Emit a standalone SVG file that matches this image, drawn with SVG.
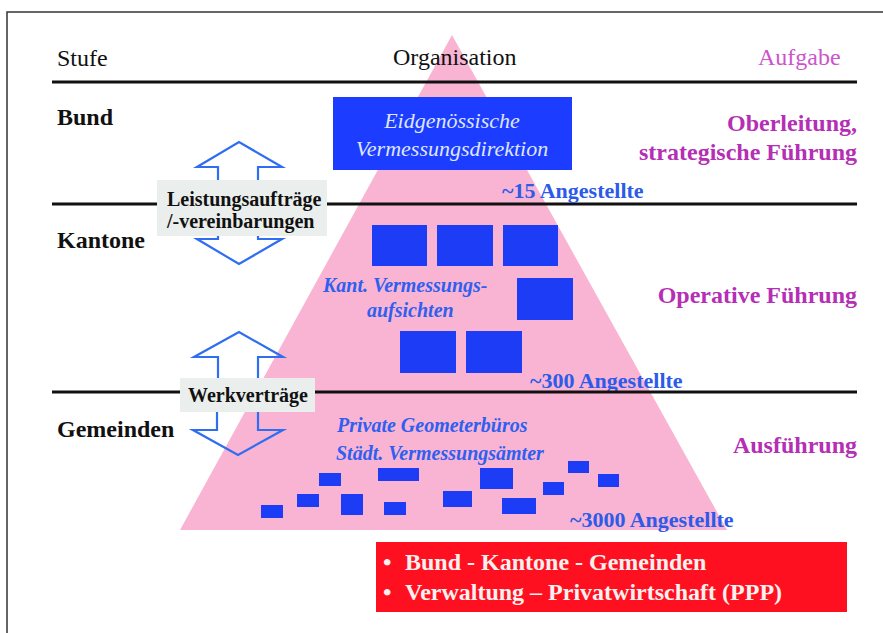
<svg xmlns="http://www.w3.org/2000/svg" width="883" height="633" viewBox="0 0 883 633">
<style>
text{font-family:"Liberation Serif","Times New Roman",serif}
.hd{font-size:24px;fill:#111}
.lv{font-size:24px;font-weight:bold;fill:#111}
.task{font-size:24px;font-weight:bold;fill:#b52fb5;text-anchor:end}
.cnt{font-size:22px;font-weight:bold;fill:#2b5be8}
.org{font-size:20px;font-weight:bold;font-style:italic;fill:#2f5ff0}
.lbl{font-size:20px;font-weight:bold;fill:#111}
.lblbox{fill:#eaeeec}
.sq{fill:#1c3cf5}
.rule{stroke:#111;stroke-width:3}
.arr{fill:none;stroke:#2f6ef0;stroke-width:2.2;stroke-linejoin:miter}
.red{font-size:24px;font-weight:bold;fill:#fff0f0}
</style>
<rect width="883" height="633" fill="#ffffff"/>
<path d="M7 633 V12 H883" fill="none" stroke="#333" stroke-width="1.5"/>

<g id="pyramid"><polygon points="452,35 180,530 727,530" fill="#f8b4d2"/></g>

<g id="header">
<text class="hd" x="57" y="66">Stufe</text>
<text class="hd" x="393" y="65">Organisation</text>
<text class="hd" x="758" y="65" style="fill:#cc55cc">Aufgabe</text>
</g>

<g id="rules">
<line class="rule" x1="52" y1="82" x2="857" y2="82"/>
<line class="rule" x1="52" y1="204" x2="857" y2="204"/>
</g>

<g id="bund">
<text class="lv" x="57" y="125">Bund</text>
<g id="vd">
<rect x="333" y="97" width="239" height="73" fill="#1c3cff"/>
<text x="452" y="128" text-anchor="middle" style="font-size:22px;font-style:italic;fill:#dfe6ff">Eidgenössische</text>
<text x="452" y="156" text-anchor="middle" style="font-size:22px;font-style:italic;fill:#dfe6ff">Vermessungsdirektion</text>
</g>
<text class="task" x="857" y="131">Oberleitung,</text>
<text class="task" x="857" y="160">strategische Führung</text>
<text class="cnt" x="502" y="198">~15 Angestellte</text>
</g>

<g id="kantone">
<text class="lv" x="57" y="248">Kantone</text>
<rect class="sq" x="372" y="225" width="55" height="41"/>
<rect class="sq" x="437" y="225" width="56" height="41"/>
<rect class="sq" x="503" y="225" width="55" height="41"/>
<rect class="sq" x="517" y="278" width="56" height="42"/>
<rect class="sq" x="400" y="331" width="56" height="42"/>
<rect class="sq" x="466" y="331" width="56" height="42"/>
<text class="org" x="323" y="292">Kant. Vermessungs-</text>
<text class="org" x="367" y="317">aufsichten</text>
<text class="task" x="857" y="303">Operative Führung</text>
<text class="cnt" x="530" y="388">~300 Angestellte</text>
</g>

<g id="rule3"><line class="rule" x1="52" y1="392" x2="857" y2="392"/></g>

<g id="gemeinden">
<text class="lv" x="57" y="437">Gemeinden</text>
<text class="org" x="337" y="432">Private Geometerbüros</text>
<text class="org" x="336" y="460">Städt. Vermessungsämter</text>
<rect class="sq" x="261" y="505" width="22" height="13"/>
<rect class="sq" x="297" y="494" width="22" height="13"/>
<rect class="sq" x="319" y="473" width="22" height="13"/>
<rect class="sq" x="341" y="494" width="22" height="21"/>
<rect class="sq" x="378" y="468" width="41" height="13"/>
<rect class="sq" x="384" y="502" width="22" height="13"/>
<rect class="sq" x="443" y="491" width="29" height="16"/>
<rect class="sq" x="480" y="468" width="33" height="21"/>
<rect class="sq" x="502" y="498" width="34" height="16"/>
<rect class="sq" x="543" y="482" width="21" height="13"/>
<rect class="sq" x="568" y="461" width="21" height="12"/>
<rect class="sq" x="598" y="474" width="21" height="13"/>
<text class="task" x="857" y="453">Ausführung</text>
<text class="cnt" x="570" y="527">~3000 Angestellte</text>
</g>

<g id="connectors">
<path class="arr" d="M218 181 V167 H197 L239 142 L282 167 H258 V181"/>
<path class="arr" d="M218 234 V239 H197 L239 264 L282 239 H258 V234"/>
<path class="arr" d="M218 379 V357 H194 L239 332 L283 357 H258 V379"/>
<path class="arr" d="M217 411 V430 H193 L238 455 L283 430 H258 V411"/>
</g>

<g id="label-leistung">
<rect class="lblbox" x="157" y="180" width="170" height="56"/>
<text class="lbl" x="167" y="206">Leistungsaufträge</text>
<text class="lbl" x="167" y="228">/-vereinbarungen</text>
</g>

<g id="label-werk">
<rect class="lblbox" x="180" y="378" width="135" height="34"/>
<text class="lbl" x="188" y="402">Werkverträge</text>
</g>

<g id="summary">
<rect x="376" y="542" width="471" height="70" fill="#ff1020"/>
<text class="red" y="570"><tspan x="383">•</tspan><tspan x="405">Bund - Kantone - Gemeinden</tspan></text>
<text class="red" y="600"><tspan x="383">•</tspan><tspan x="405">Verwaltung – Privatwirtschaft (PPP)</tspan></text>
</g>
</svg>
